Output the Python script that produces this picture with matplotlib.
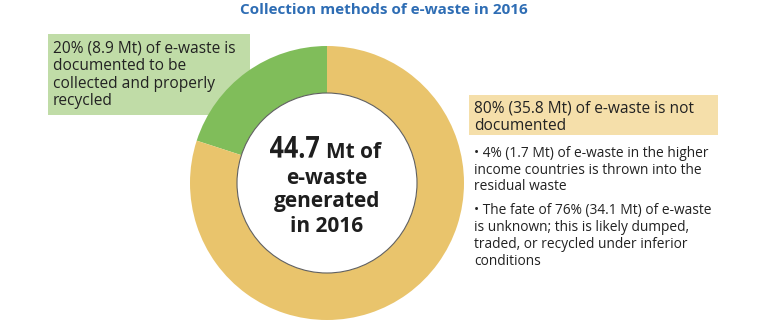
import matplotlib
matplotlib.use('Agg')
import matplotlib.pyplot as plt
from matplotlib.patches import Rectangle, Circle, PathPatch
from matplotlib.textpath import TextPath
from matplotlib.font_manager import FontProperties
from matplotlib.transforms import Affine2D

W, H = 762, 326

# data
shares = [20, 80]
share_colors = ['#80bd5a', '#e9c46c']
total_mt = 44.7
title = 'Collection methods of e-waste in 2016'
green_text = '20% (8.9 Mt) of e-waste is\ndocumented to be\ncollected and properly\nrecycled'
yellow_text = '80% (35.8 Mt) of e-waste is not\ndocumented'
bullet1 = '\u2022 4% (1.7 Mt) of e-waste in the higher\nincome countries is thrown into the\nresidual waste'
bullet2 = '\u2022 The fate of 76% (34.1 Mt) of e-waste\nis unknown; this is likely dumped,\ntraded, or recycled under inferior\nconditions'

plt.rcParams['font.family'] = ['Open Sans', 'DejaVu Sans']

fig = plt.figure(figsize=(W/100, H/100), dpi=100)
ax = fig.add_axes([0, 0, 1, 1])

def py(y):
    # pixel row (from top) -> data y
    return H - y

cx, cy = 327, py(183)
r_out, r_in = 137, 90

# boxes behind the ring
ax.add_patch(Rectangle((48, py(115)), 202, 81, facecolor='#c0dca7', edgecolor='none', zorder=1))
ax.add_patch(Rectangle((469, py(135)), 249, 40, facecolor='#f5dfaa', edgecolor='none', zorder=1))

ax.pie(shares, colors=share_colors, startangle=90, counterclock=True,
       center=(cx, cy), radius=r_out, frame=True,
       wedgeprops=dict(width=r_out - r_in, edgecolor='none', zorder=2))
ax.set_xlim(0, W)
ax.set_ylim(0, H)
ax.set_aspect('equal')
ax.axis('off')
ax.add_patch(Circle((cx, cy), r_in, facecolor='white', edgecolor='#606060', lw=0.8, zorder=3))

# title
ax.text(384, py(10), title, ha='center', va='center', fontsize=11,
        fontweight='bold', color='#2e6db4')

# box texts
ax.text(53, py(75), green_text, ha='left', va='center', fontsize=11.2,
        color='#222222', linespacing=1.12, zorder=4)
ax.text(474, py(117), yellow_text, ha='left', va='center', fontsize=11.2,
        color='#222222', linespacing=1.15, zorder=4)
ax.text(474, py(170), bullet1, ha='left', va='center', fontsize=9.9,
        color='#222222', linespacing=1.18, zorder=4)
ax.text(474, py(236), bullet2, ha='left', va='center', fontsize=9.9,
        color='#222222', linespacing=1.18, zorder=4)

# centre label: condensed big number, squeezed into its box
tp = TextPath((0, 0), f'{total_mt}', size=30,
              prop=FontProperties(family='Open Sans', weight='bold'))
ext = tp.get_extents()
bx0, bx1, by0, by1 = 270, 319, py(158), py(136)
sx = (bx1 - bx0) / ext.width
sy = (by1 - by0) / ext.height
tr = Affine2D().translate(-ext.x0, -ext.y0).scale(sx, sy).translate(bx0, by0)
ax.add_patch(PathPatch(tr.transform_path(tp), facecolor='#1e1e1e', edgecolor='none', zorder=4))

ax.text(353, py(158), 'Mt of', ha='center', va='baseline', fontsize=15,
        fontweight='bold', color='#1e1e1e', zorder=4)
ax.text(cx, py(178), 'e-waste', ha='center', va='center', fontsize=15,
        fontweight='bold', color='#1e1e1e', zorder=4)
ax.text(cx, py(202), 'generated', ha='center', va='center', fontsize=15,
        fontweight='bold', color='#1e1e1e', zorder=4)
ax.text(cx, py(226), 'in 2016', ha='center', va='center', fontsize=15,
        fontweight='bold', color='#1e1e1e', zorder=4)

fig.savefig('out.png', dpi=100, facecolor='white')
